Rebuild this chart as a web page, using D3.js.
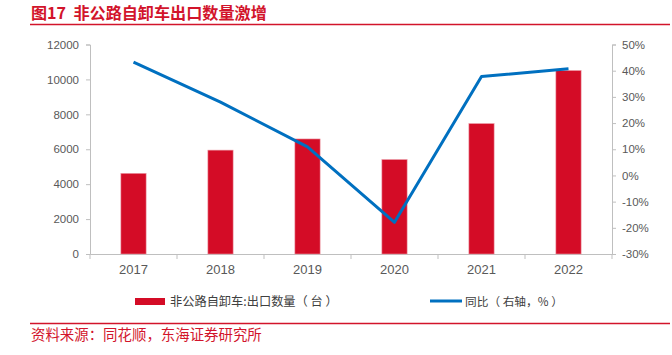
<!DOCTYPE html>
<html><head><meta charset="utf-8">
<script src="https://cdn.jsdelivr.net/npm/d3@7"></script>
<style>
body{margin:0;background:#fff;}
svg{display:block;font-family:"Noto Sans CJK SC","Noto Sans",sans-serif;}
text{white-space:pre;}
</style></head><body>
<svg id="c" width="672" height="355"></svg>
<script>
const categories = ["2017","2018","2019","2020","2021","2022"];
const exportUnits = [4620, 5950, 6590, 5410, 7470, 10510];
const yoyPct = [43.3, 28.0, 10.9, -17.9, 37.8, 40.7];
const leftTicks = [0,2000,4000,6000,8000,10000,12000];
const rightTicks = [-30,-20,-10,0,10,20,30,40,50];
const title = "图17  非公路自卸车出口数量激增";
const barLegend = "非公路自卸车:出口数量（ 台 ）";
const lineLegend = "同比（ 右轴，% ）";
const source = "资料来源：同花顺，东海证券研究所";

const svg = d3.select("#c");
const red = "#d40c26", blue = "#0070c0", axisCol = "#bfbfbf", txt = "#595959";
const L = 90, R = 612, T = 44.5, B = 254;

function fitText(sel, target, base){
  let w = sel.node().getComputedTextLength();
  if (w > 0) sel.attr("font-size", base * target / w);
}

// title
const tt = svg.append("text").attr("x",31).attr("y",19).attr("fill","#d2142b")
  .attr("font-size",16).attr("font-weight","bold").text(title);
fitText(tt, 236, 16);
svg.append("line").attr("x1",30).attr("x2",670).attr("y1",24.5).attr("y2",24.5)
  .attr("stroke","#d2142b").attr("stroke-width",1.5);

const x = d3.scaleBand().domain(categories).range([L,R]);
const yL = d3.scaleLinear().domain([0,12000]).range([B,T]);
const yR = d3.scaleLinear().domain([-30,50]).range([B,T]);

const gl = svg.append("g").attr("transform",`translate(${L},0)`)
  .call(d3.axisLeft(yL).tickValues(leftTicks).tickSize(4).tickPadding(7).tickFormat(d3.format("d")));
const gr = svg.append("g").attr("transform",`translate(${R},0)`)
  .call(d3.axisRight(yR).tickValues(rightTicks).tickSize(4).tickPadding(6).tickFormat(d=>d+"%"));
const gx = svg.append("g").attr("transform",`translate(0,${B})`)
  .call(d3.axisBottom(x).tickSize(0).tickPadding(11));
const bounds = categories.map(c=>x(c)).concat([R]);
svg.append("g").selectAll("line").data(bounds).join("line")
  .attr("x1",d=>d).attr("x2",d=>d).attr("y1",B).attr("y2",B+5)
  .attr("stroke",axisCol);

[gl,gr,gx].forEach(g=>{
  g.selectAll("path,line").attr("stroke",axisCol);
  g.selectAll("text").attr("fill",txt).attr("font-size",11.5)
   .attr("font-family","Liberation Sans, Arial, sans-serif");
});
gx.selectAll("text").attr("font-size",13);

const bw = x.bandwidth()*0.29;
svg.append("g").selectAll("rect").data(categories).join("rect")
  .attr("x",(d)=>x(d)+x.bandwidth()/2-bw/2)
  .attr("width",bw)
  .attr("y",(d,i)=>yL(exportUnits[i]))
  .attr("height",(d,i)=>B-yL(exportUnits[i]))
  .attr("fill",red).attr("stroke","#ec9aa6").attr("stroke-width",0.6);

const line = d3.line().x((d,i)=>x(categories[i])+x.bandwidth()/2).y(d=>yR(d));
svg.append("path").datum(yoyPct).attr("d",line).attr("fill","none")
  .attr("stroke",blue).attr("stroke-width",3).attr("stroke-linejoin","round");

// legend
svg.append("rect").attr("x",135).attr("y",298).attr("width",30).attr("height",7).attr("fill",red);
const l1 = svg.append("text").attr("x",170).attr("y",306).attr("font-size",12.5).attr("fill","#404040").text(barLegend);
fitText(l1, 168, 12.5);
svg.append("line").attr("x1",430).attr("x2",462).attr("y1",301).attr("y2",301)
  .attr("stroke",blue).attr("stroke-width",3);
const l2 = svg.append("text").attr("x",465).attr("y",306).attr("font-size",12.5).attr("fill","#404040").text(lineLegend);
fitText(l2, 98, 12.5);

// source
svg.append("line").attr("x1",30).attr("x2",670).attr("y1",323.5).attr("y2",323.5)
  .attr("stroke","#d2142b").attr("stroke-width",1.5);
const st = svg.append("text").attr("x",31).attr("y",340).attr("font-size",14).attr("fill","#d2142b").text(source);
fitText(st, 231, 14);
</script>
</body></html>
